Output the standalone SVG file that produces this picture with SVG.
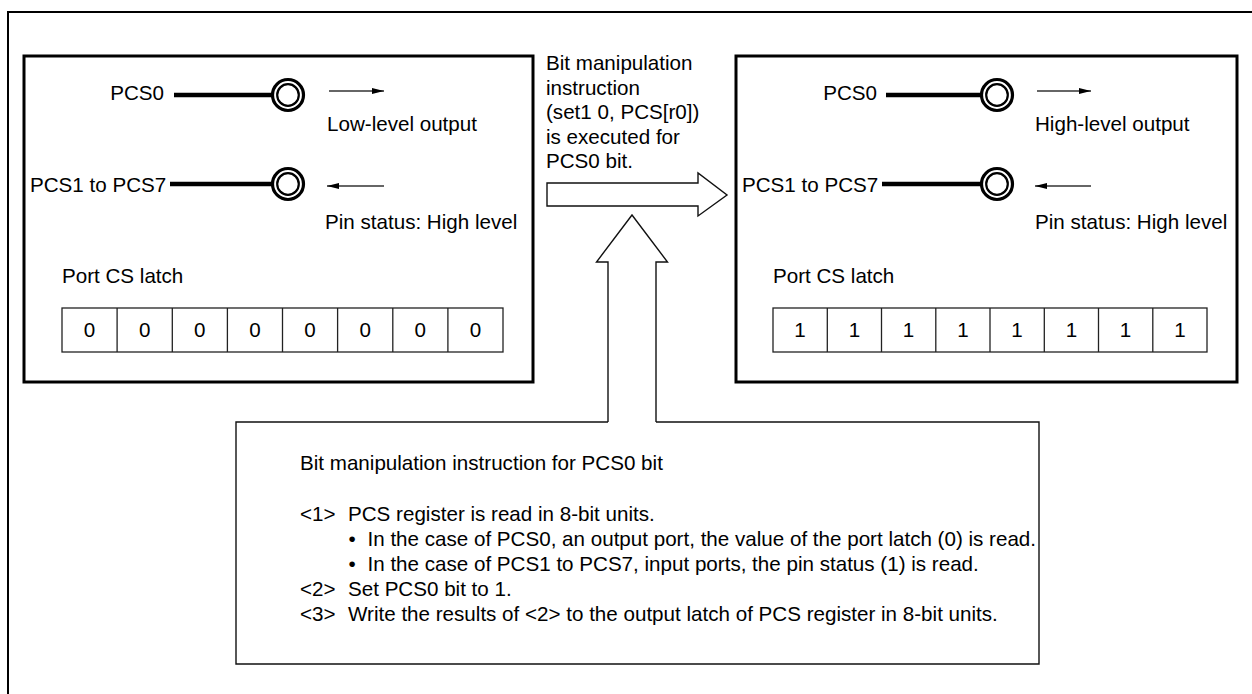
<svg xmlns="http://www.w3.org/2000/svg" width="1252" height="694" viewBox="0 0 1252 694">
<defs>
<marker id="ah" viewBox="0 0 12 6" refX="12" refY="3" markerWidth="12" markerHeight="6" markerUnits="userSpaceOnUse" orient="auto-start-reverse">
<path d="M0,0 L12,3 L0,6 Z" fill="#000"/>
</marker>
</defs>
<style>
text{font-family:"Liberation Sans",Arial,Helvetica,sans-serif;font-size:20.6px;fill:#000}
.mid{text-anchor:middle}
.end{text-anchor:end}
.box{fill:#fff;stroke:#000;stroke-width:3}
.wire{stroke:#000;stroke-width:4.5;fill:none}
.ro{fill:#fff;stroke:#000;stroke-width:3.2}
.ri{fill:#fff;stroke:#000;stroke-width:2.2}
.sa{stroke:#333;stroke-width:1.3;fill:none;marker-end:url(#ah)}
.cell{fill:#fff;stroke:#222;stroke-width:1.3}
.thin{fill:#fff;stroke:#111;stroke-width:1.4}
</style>
<rect width="1252" height="694" fill="#fff"/>
<path id="frame" d="M8,700 V12 H1260" fill="none" stroke="#000" stroke-width="2"/>

<g id="before">
<rect class="box" x="24" y="56" width="509" height="326"/>
<text class="end" x="164" y="100">PCS0</text>
<line class="wire" x1="174" y1="95" x2="274" y2="95"/>
<circle class="ro" cx="288" cy="95" r="15.5"/>
<circle class="ri" cx="288" cy="95" r="10.8"/>
<line class="sa" x1="329" y1="91" x2="384" y2="91"/>
<text x="327" y="131">Low-level output</text>
<text x="30" y="192">PCS1 to PCS7</text>
<line class="wire" x1="170" y1="184" x2="274" y2="184"/>
<circle class="ro" cx="288" cy="184" r="15.5"/>
<circle class="ri" cx="288" cy="184" r="10.8"/>
<line class="sa" x1="384" y1="186" x2="327" y2="186"/>
<text x="325" y="229">Pin status: High level</text>
<text x="62" y="283">Port CS latch</text>
<rect class="cell" x="62" y="308" width="441" height="44"/>
<path class="cell" d="M117.1,308V352M172.3,308V352M227.4,308V352M282.5,308V352M337.6,308V352M392.8,308V352M447.9,308V352"/>
<text class="mid" x="89.6" y="337">0</text>
<text class="mid" x="144.7" y="337">0</text>
<text class="mid" x="199.8" y="337">0</text>
<text class="mid" x="255" y="337">0</text>
<text class="mid" x="310.1" y="337">0</text>
<text class="mid" x="365.2" y="337">0</text>
<text class="mid" x="420.3" y="337">0</text>
<text class="mid" x="475.5" y="337">0</text>
</g>

<g id="after">
<rect class="box" x="736" y="56" width="501" height="326"/>
<text class="end" x="877" y="100">PCS0</text>
<line class="wire" x1="886" y1="95" x2="983" y2="95"/>
<circle class="ro" cx="997" cy="95" r="15.5"/>
<circle class="ri" cx="997" cy="95" r="10.8"/>
<line class="sa" x1="1037" y1="91" x2="1091" y2="91"/>
<text x="1035" y="131">High-level output</text>
<text x="742" y="192">PCS1 to PCS7</text>
<line class="wire" x1="882" y1="184" x2="983" y2="184"/>
<circle class="ro" cx="997" cy="184" r="15.5"/>
<circle class="ri" cx="997" cy="184" r="10.8"/>
<line class="sa" x1="1091" y1="186" x2="1035" y2="186"/>
<text x="1035" y="229">Pin status: High level</text>
<text x="773" y="283">Port CS latch</text>
<rect class="cell" x="773" y="308" width="434" height="44"/>
<path class="cell" d="M827.3,308V352M881.5,308V352M935.8,308V352M990,308V352M1044.3,308V352M1098.5,308V352M1152.8,308V352"/>
<text class="mid" x="800.1" y="337">1</text>
<text class="mid" x="854.4" y="337">1</text>
<text class="mid" x="908.6" y="337">1</text>
<text class="mid" x="962.9" y="337">1</text>
<text class="mid" x="1017.1" y="337">1</text>
<text class="mid" x="1071.4" y="337">1</text>
<text class="mid" x="1125.6" y="337">1</text>
<text class="mid" x="1179.9" y="337">1</text>
</g>

<g id="instruction">
<text x="546" y="70">Bit manipulation</text>
<text x="546" y="94.5">instruction</text>
<text x="546" y="119">(set1 0, PCS[r0])</text>
<text x="546" y="143.5">is executed for</text>
<text x="546" y="168">PCS0 bit.</text>
</g>

<g id="explanation">
<path class="thin" d="M608,422 H236 V664 H1039 V422 H656"/>
<text x="300" y="470">Bit manipulation instruction for PCS0 bit</text>
<text x="300" y="521">&lt;1&gt;</text>
<text x="348" y="521">PCS register is read in 8-bit units.</text>
<text x="348.5" y="546">•</text>
<text x="367.5" y="546">In the case of PCS0, an output port, the value of the port latch (0) is read.</text>
<text x="348.5" y="571">•</text>
<text x="367.5" y="571">In the case of PCS1 to PCS7, input ports, the pin status (1) is read.</text>
<text x="300" y="596">&lt;2&gt;</text>
<text x="348" y="596">Set PCS0 bit to 1.</text>
<text x="300" y="621">&lt;3&gt;</text>
<text x="348" y="621">Write the results of &lt;2&gt; to the output latch of PCS register in 8-bit units.</text>
</g>

<g id="connectors">
<polygon class="thin" points="547,183 698,183 698,173 727,195 698,216 698,206 547,206"/>
<polyline class="thin" points="608,422 608,262 596.5,262 632,215 667.5,262 656,262 656,422"/>
</g>
</svg>
